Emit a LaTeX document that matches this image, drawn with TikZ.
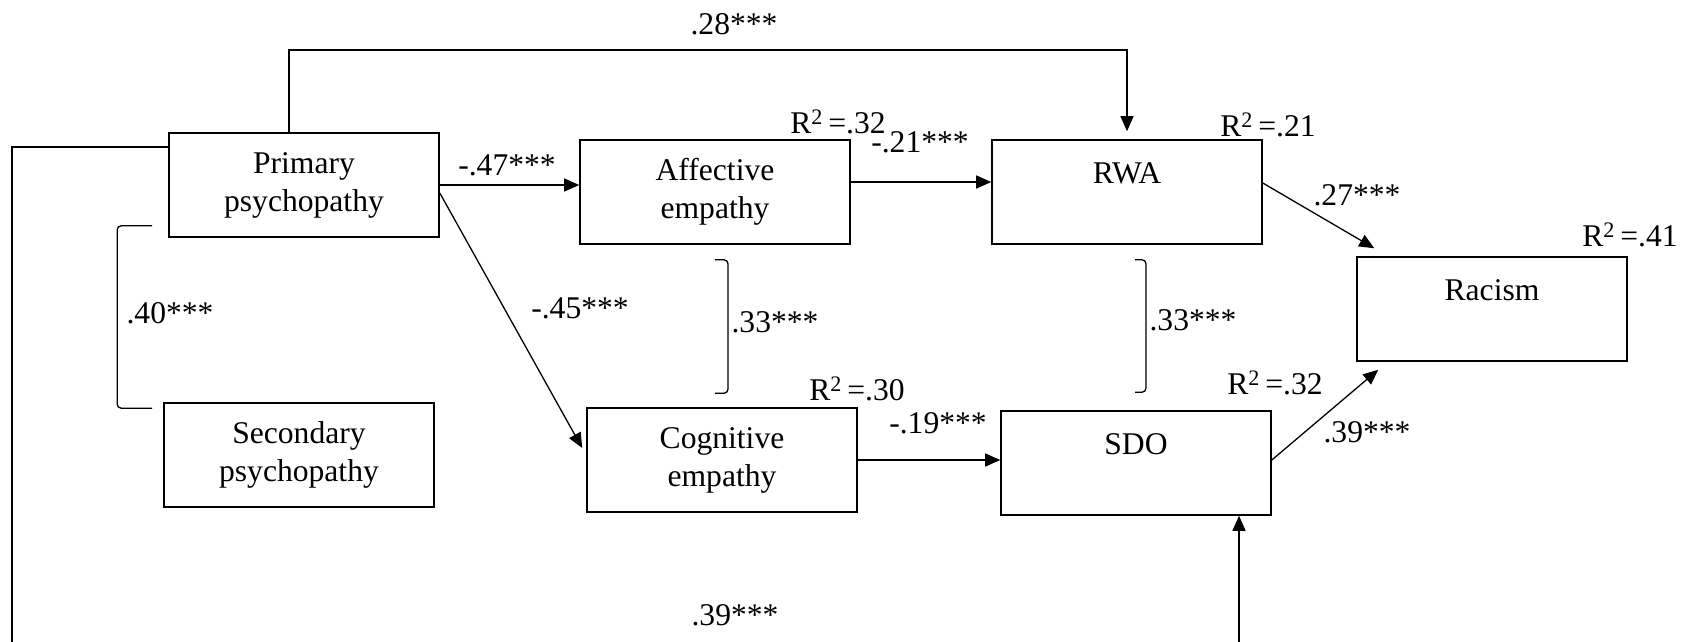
\documentclass[tikz,border=0pt]{standalone}
\usepackage{fontspec}
\setmainfont{Liberation Serif}
\usepackage{tikz}
\usetikzlibrary{arrows.meta}
\usetikzlibrary{positioning}
\def\rsq#1{R\textsuperscript{2}\,=#1}

\begin{document}
\begin{tikzpicture}[x=1pt,y=-1pt,>={Triangle[length=15pt,width=13pt]},
			line width=1.3pt,
			font=\fontsize{31.6pt}{38pt}\selectfont]
			\tikzstyle{var}=[draw,line width=1.6pt,minimum width=270pt,minimum height=104pt,
				inner sep=0pt,align=center]
			\tikzstyle{coef}=[inner sep=0pt]
			\tikzstyle{arr}=[->]
			\tikzstyle{corr}=[rounded corners=4pt]
			\useasboundingbox (0,0) rectangle (1683,641);

			% variables
			\node[var] (prim) at (304,185) {Primary\\psychopathy};
			\node[var] (sec)  at (299,455) {Secondary\\psychopathy};
			\node[var] (aff)  at (715,192) {Affective\\empathy};
			\node[var] (cog)  at (722,460) {Cognitive\\empathy};
			\node[var] (rwa)  at (1127,192) {RWA\\~};
			\node[var] (sdo)  at (1136,463) {SDO\\~};
			\node[var] (rac)  at (1492,309) {Racism\\~};
			\coordinate (top) at (1127,50);
			\coordinate (low) at (12,660);

			% paths
			\draw[arr] (prim.east) -- (prim.east -| aff.west);
			\draw[arr] ([yshift=10pt]aff.east) -- ([yshift=10pt]aff.east -| rwa.west);
			\draw[arr] (cog.east) -- (cog.east -| sdo.west);
			\draw[arr] ([yshift=-8pt]prim.east) -- ([xshift=-4pt,yshift=12pt]cog.west);
			\draw[arr] ([yshift=9pt]rwa.east) -- ([xshift=18pt,yshift=8pt]rac.north west);
			\draw[arr] ([yshift=3pt]sdo.east) -- ([xshift=22pt,yshift=-8pt]rac.south west);
			\draw[arr,shorten >=8pt] ([xshift=-15pt]prim.north) |- (top) -- (rwa.north);
			\draw[arr] ([yshift=38pt]prim.west) -| (low) -| ([xshift=103pt]sdo.south);

			% correlations
			\draw[corr] ([xshift=-16pt,yshift=12pt]prim.south west) -- ++(-35,0)
				|- ([xshift=-11pt,yshift=-6pt]sec.north west);
			\draw[corr] ([yshift=-15pt]aff.south) -- ++(13,0)
				|- ([xshift=-7pt,yshift=14pt]cog.north);
			\draw[corr] ([xshift=8pt,yshift=-15pt]rwa.south) -- ++(11,0)
				|- ([xshift=-1pt,yshift=18pt]sdo.north);

			% coefficients
			\node[coef] (c28)  at (734,24)   {.28***};
			\node[coef] (c47)  at (507,165)  {-.47***};
			\node[coef] (c21)  at (920,142)  {-.21***};
			\node[coef] (c27)  at (1357,195) {.27***};
			\node[coef] (c40)  at (170,313)  {.40***};
			\node[coef] (c45)  at (580,308)  {-.45***};
			\node[coef] (c33a) at (775,322)  {.33***};
			\node[coef] (c33b) at (1193,320) {.33***};
			\node[coef] (c19)  at (938,423)  {-.19***};
			\node[coef] (c39a) at (1367,432) {.39***};
			\node[coef] (c39b) at (735,615)  {.39***};

			% explained variance
			\node[coef] (raff) at (838,122)  {\rsq{.32}};
			\node[coef] (rrwa) at (1268,125) {\rsq{.21}};
			\node[coef] (rrac) at (1630,235) {\rsq{.41}};
			\node[coef] (rcog) at (857,389)  {\rsq{.30}};
			\node[coef] (rsdo) at (1275,383) {\rsq{.32}};
\end{tikzpicture}
\end{document}
